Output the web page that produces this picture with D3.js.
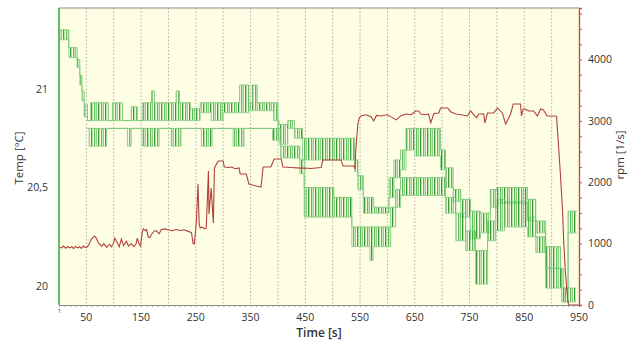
<!DOCTYPE html>
<html>
<head>
<meta charset="utf-8">
<script src="https://cdn.jsdelivr.net/npm/d3@7"></script>
<style>
  body { margin: 0; background: #fff; }
  svg { display: block; font-family: "Open Sans", sans-serif; }
</style>
</head>
<body>
<svg id="chart" width="633" height="343"></svg>
<script>
// axis ticks
const timeTicks = [50, 150, 250, 350, 450, 550, 650, 750, 850, 950]
const gridTimes = [50, 100, 150, 200, 250, 300, 350, 400, 450, 500, 550, 600, 650, 700, 750, 800, 850, 900]
const tempTicks = [20, 20.5, 21]
const rpmTicks = [0, 1000, 2000, 3000, 4000]

// rpm trace [time s, rpm]
const rpmSeries = [[1,940],[5,930],[8,960],[12,925],[16,955],[19,930],[23,950],[27,920],[30,955],[34,930],[37,950],[41,925],[45,960],[48,935],[52,950],[56,1010],[59,1070],[65,1125],[68,1090],[72,1010],[78,960],[82,1000],[87,940],[92,990],[96,950],[99,1000],[102,1090],[105,1040],[110,950],[114,1075],[118,970],[123,1040],[127,960],[132,1000],[137,950],[141,1000],[143,1090],[146,1000],[149,960],[152,1180],[154,1240],[158,1210],[160,1230],[163,1108],[166,1100],[169,1150],[174,1206],[178,1210],[183,1160],[187,1230],[194,1240],[200,1223],[207,1210],[214,1230],[222,1215],[229,1225],[236,1200],[242,1180],[245,1000],[247,994],[249,1150],[251,1369],[254,1972],[256,1320],[258,1255],[262,1270],[266,1240],[269,1255],[273,2184],[274,1483],[278,1907],[282,1337],[284,2233],[288,2300],[291,2347],[300,2347],[302,2249],[310,2240],[315,2249],[322,2220],[329,2233],[331,2135],[342,2135],[347,1972],[355,1950],[360,1940],[369,1923],[373,2249],[387,2249],[393,2380],[406,2380],[409,2249],[424,2240],[442,2230],[448,2233],[460,2225],[479,2240],[482,2364],[497,2364],[515,2364],[519,2266],[533,2266],[539,2266],[541,2217],[542,2500],[546,2950],[548,3032],[551,3081],[561,3100],[570,3070],[575,2999],[580,3090],[588,3081],[600,3100],[606,3070],[616,3016],[624,3081],[634,3113],[643,3100],[652,3162],[657,3162],[661,3113],[670,3100],[675,3113],[679,2967],[685,3120],[694,3130],[697,3211],[710,3211],[716,3146],[725,3113],[735,3100],[746,3081],[752,3162],[758,3100],[763,3050],[767,3113],[776,3113],[778,2967],[783,3130],[794,3130],[801,3211],[810,3130],[816,2950],[825,3113],[830,3276],[843,3276],[845,3081],[848,3195],[852,3195],[858,3162],[867,3162],[874,3081],[880,3195],[885,3180],[892,3081],[907,3081],[909,3070],[912,2673],[916,2135],[920,1532],[922,1043],[925,554],[929,114],[931,0],[950,0]]

// temperature sensor 1: [start s, low °C, high °C] (flickers between low and high)
const sensorA = [[1,21.25,21.30],[18,21.16,21.21],[33,21.11,21.15],[38,21.02,21.07],[42,20.94,20.99],[46,20.86,20.92],[52,20.84,20.84],[58,20.84,20.93],[90,20.84,20.84],[98,20.84,20.93],[116,20.84,20.84],[132,20.84,20.91],[143,20.84,20.84],[152,20.84,20.93],[169,20.84,20.99],[174,20.84,20.93],[214,20.84,20.99],[220,20.84,20.93],[240,20.84,20.90],[258,20.88,20.93],[278,20.84,20.93],[300,20.88,20.93],[330,20.88,21.02],[347,20.89,20.93],[353,20.89,21.02],[362,20.89,20.93],[392,20.84,20.93],[400,20.80,20.84],[402,20.72,20.82],[418,20.80,20.84],[430,20.75,20.80],[445,20.64,20.75],[540,20.58,20.64],[546,20.49,20.56],[556,20.37,20.45],[575,20.37,20.40],[603,20.45,20.55],[612,20.55,20.64],[624,20.59,20.69],[634,20.69,20.80],[650,20.66,20.80],[697,20.59,20.69],[706,20.50,20.60],[720,20.43,20.49],[734,20.35,20.44],[752,20.24,20.38],[770,20.27,20.37],[788,20.40,20.49],[800,20.42,20.50],[856,20.33,20.44],[871,20.27,20.33],[889,20.09,20.20],[916,20.09,20.09],[921,19.92,19.99]]
const sensorAEnd = 944

// temperature sensor 2
const sensorB = [[52,20.80,20.80],[55,20.71,20.80],[87,20.80,20.80],[125,20.71,20.80],[132,20.80,20.80],[152,20.71,20.80],[183,20.80,20.80],[205,20.71,20.80],[223,20.80,20.80],[260,20.71,20.80],[280,20.80,20.80],[318,20.71,20.80],[338,20.80,20.80],[390,20.74,20.80],[405,20.65,20.71],[440,20.57,20.64],[448,20.35,20.50],[502,20.35,20.45],[535,20.20,20.30],[568,20.13,20.30],[574,20.20,20.30],[606,20.30,20.40],[615,20.40,20.49],[624,20.46,20.55],[706,20.37,20.45],[725,20.23,20.37],[743,20.18,20.28],[761,20.01,20.18],[783,20.23,20.33],[798,20.28,20.44],[814,20.30,20.43],[856,20.25,20.35],[871,20.17,20.25],[889,19.99,20.09],[918,19.92,19.99],[930,20.27,20.38]]
const sensorBEnd = 946

const svg = d3.select('#chart')
const plotLeft = 59, plotRight = 579, plotTop = 8, plotBottom = 305

const xScale = d3.scaleLinear().domain([0, 950]).range([plotLeft, plotRight])
const yTemp = d3.scaleLinear().domain([19.904, 21.411]).range([plotBottom, plotTop])
const yRpm = d3.scaleLinear().domain([0, 4840]).range([plotBottom, plotTop])

// hatch that stands in for the dense flicker of the sensor signal
const pat = svg.append('defs').append('pattern')
    .attr('id', 'flicker')
    .attr('patternUnits', 'userSpaceOnUse')
    .attr('width', 7).attr('height', 10)
const hatch = [[0.5, '#1f931f', 0.9], [1.5, '#5cbf5c', 0.45], [3.5, '#2fa52f', 0.75], [4.5, '#8fd18f', 0.5], [5.5, '#45b245', 0.6]]
pat.selectAll('line').data(hatch).join('line')
    .attr('x1', d => d[0]).attr('x2', d => d[0])
    .attr('y1', 0).attr('y2', 10)
    .attr('stroke', d => d[1])
    .attr('stroke-opacity', d => d[2])

// plot background
svg.append('rect')
    .attr('x', plotLeft).attr('y', plotTop)
    .attr('width', plotRight - plotLeft).attr('height', plotBottom - plotTop)
    .attr('fill', '#fefee4')

// vertical dotted gridlines
svg.append('g').selectAll('line').data(gridTimes).join('line')
    .attr('x1', d => xScale(d)).attr('x2', d => xScale(d))
    .attr('y1', plotTop).attr('y2', plotBottom)
    .attr('stroke', '#9a9a9a')
    .attr('stroke-width', 0.8)
    .attr('stroke-dasharray', '1.5,2')

function drawSensor(segments, tEnd) {
    const g = svg.append('g')
    const withEnd = segments.map((s, i) => ({
        t0: s[0],
        t1: i < segments.length - 1 ? segments[i + 1][0] : tEnd,
        lo: s[1],
        hi: s[2]
    }))
    g.selectAll('rect').data(withEnd.filter(d => d.hi > d.lo)).join('rect')
        .attr('x', d => xScale(d.t0))
        .attr('width', d => xScale(d.t1) - xScale(d.t0))
        .attr('y', d => yTemp(d.hi))
        .attr('height', d => yTemp(d.lo) - yTemp(d.hi))
        .attr('fill', 'url(#flicker)')

    const stepLine = d3.line().curve(d3.curveStepAfter)
    const lastSeg = withEnd[withEnd.length - 1]
    const loPts = withEnd.map(d => [xScale(d.t0), yTemp(d.lo)]).concat([[xScale(tEnd), yTemp(lastSeg.lo)]])
    const hiPts = withEnd.map(d => [xScale(d.t0), yTemp(d.hi)]).concat([[xScale(tEnd), yTemp(lastSeg.hi)]])
    g.append('path').attr('d', stepLine(loPts))
        .attr('fill', 'none').attr('stroke', '#8fd08f').attr('stroke-width', 0.9)
    g.append('path').attr('d', stepLine(hiPts))
        .attr('fill', 'none').attr('stroke', '#7ac67a').attr('stroke-width', 0.9)
}

drawSensor(sensorA, sensorAEnd)
drawSensor(sensorB, sensorBEnd)

// rpm line
const rpmLine = d3.line()
    .x(d => xScale(d[0]))
    .y(d => yRpm(d[1]))
svg.append('path')
    .attr('d', rpmLine(rpmSeries))
    .attr('fill', 'none')
    .attr('stroke', '#b0413a')
    .attr('stroke-width', 1.1)

// frame: top border
svg.append('line')
    .attr('x1', plotLeft).attr('x2', plotRight).attr('y1', plotTop).attr('y2', plotTop)
    .attr('stroke', '#8a8a8a')

// bottom axis
const xAxis = svg.append('g').attr('transform', `translate(0,${plotBottom})`)
xAxis.call(d3.axisBottom(xScale).tickValues(d3.range(10, 950, 10)).tickSize(2).tickFormat(''))
xAxis.select('.domain').attr('stroke', '#8a8a8a')
xAxis.selectAll('.tick line').attr('stroke', '#9a9a9a')
svg.append('g').selectAll('text').data(timeTicks).join('text')
    .attr('x', d => xScale(d)).attr('y', plotBottom + 16)
    .attr('text-anchor', 'middle')
    .attr('font-size', 10.5).attr('fill', '#333')
    .text(d => d)
svg.append('text')
    .attr('x', xScale(1)).attr('y', plotBottom + 8)
    .attr('text-anchor', 'middle')
    .attr('font-size', 6).attr('fill', '#444')
    .text('1')
svg.append('text')
    .attr('x', (plotLeft + plotRight) / 2).attr('y', 337)
    .attr('text-anchor', 'middle')
    .attr('font-size', 12).attr('font-weight', 600).attr('fill', '#333')
    .text('Time [s]')

// left temperature axis
svg.append('line')
    .attr('x1', plotLeft).attr('x2', plotLeft).attr('y1', plotTop).attr('y2', plotBottom)
    .attr('stroke', '#3fae3f').attr('stroke-width', 1.6)
svg.append('g').selectAll('text').data(tempTicks).join('text')
    .attr('x', 48).attr('y', d => yTemp(d))
    .attr('dy', '0.35em')
    .attr('text-anchor', 'end')
    .attr('font-size', 10.5).attr('fill', '#333')
    .text(d => String(d).replace('.', ','))
svg.append('text')
    .attr('transform', `translate(23,158) rotate(-90)`)
    .attr('text-anchor', 'middle')
    .attr('font-size', 11.5).attr('fill', '#333')
    .text('Temp [°C]')

// right rpm axis
const rAxis = svg.append('g').attr('transform', `translate(${plotRight},0)`)
rAxis.call(d3.axisRight(yRpm).tickValues(d3.range(0, 4800, 250)).tickSize(3).tickFormat(''))
rAxis.select('.domain').attr('stroke', '#c0504d').attr('stroke-width', 1.4)
rAxis.selectAll('.tick line').attr('stroke', '#c0504d')
svg.append('g').selectAll('text').data(rpmTicks).join('text')
    .attr('x', 588).attr('y', d => yRpm(d))
    .attr('dy', '0.35em')
    .attr('font-size', 10.5).attr('fill', '#333')
    .text(d => d)
svg.append('text')
    .attr('transform', `translate(624,155) rotate(-90)`)
    .attr('text-anchor', 'middle')
    .attr('font-size', 11.5).attr('fill', '#333')
    .text('rpm [1/s]')
</script>
</body>
</html>
